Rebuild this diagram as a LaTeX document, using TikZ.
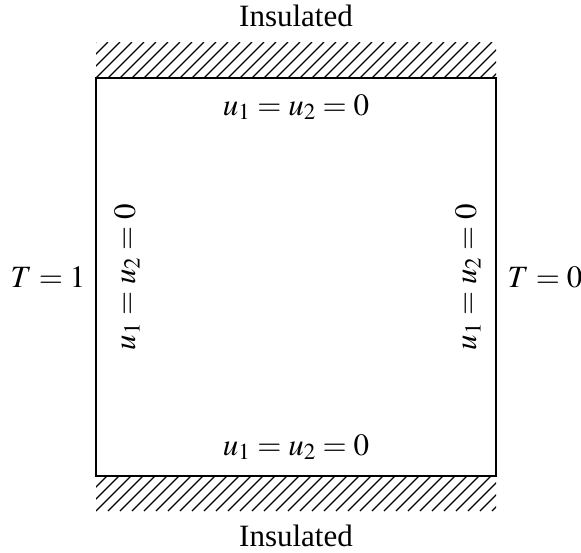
\documentclass[tikz,border=0pt]{standalone}
\usepackage{mathptmx}
\usepackage{fontspec}
\setmainfont{Liberation Serif}

\begin{document}
\begin{tikzpicture}[
  x=1pt, y=-1pt,
  font=\fontsize{31}{37}\selectfont,
  plate/.style={draw, line width=1.2pt, minimum width=400pt, minimum height=398pt, inner sep=0pt},
  hatch/.style={line width=1.2pt},
  bc/.style={inner sep=0pt}
]
\useasboundingbox (0,0) rectangle (581,552);

% plate
\node[plate] (plate) at (296,277) {};

% insulated walls
\begin{scope}
  \clip (96,42) rectangle (496,78);
  \foreach \x in {48,60,...,504}
    \draw[hatch] (\x,78) -- ++(36,-36);
\end{scope}
\begin{scope}
  \clip (96,476) rectangle (496,511);
  \foreach \x in {48,60,...,504}
    \draw[hatch] (\x,511) -- ++(35,-35);
\end{scope}

\node (instop) at (296,16) {Insulated};
\node (insbot) at (296,536) {Insulated};

% boundary conditions
\node[bc] (bctop) at (296,107) {$u_1=u_2=0$};
\node[bc] (bcbot) at (296,447) {$u_1=u_2=0$};
\node[bc, rotate=90] (bcleft) at (127,277) {$u_1=u_2=0$};
\node[bc, rotate=90] (bcright) at (468,277) {$u_1=u_2=0$};

\node[bc] (hot) at (48,277) {$T=1$};
\node[bc] (cold) at (545,277) {$T=0$};

\end{tikzpicture}
\end{document}
